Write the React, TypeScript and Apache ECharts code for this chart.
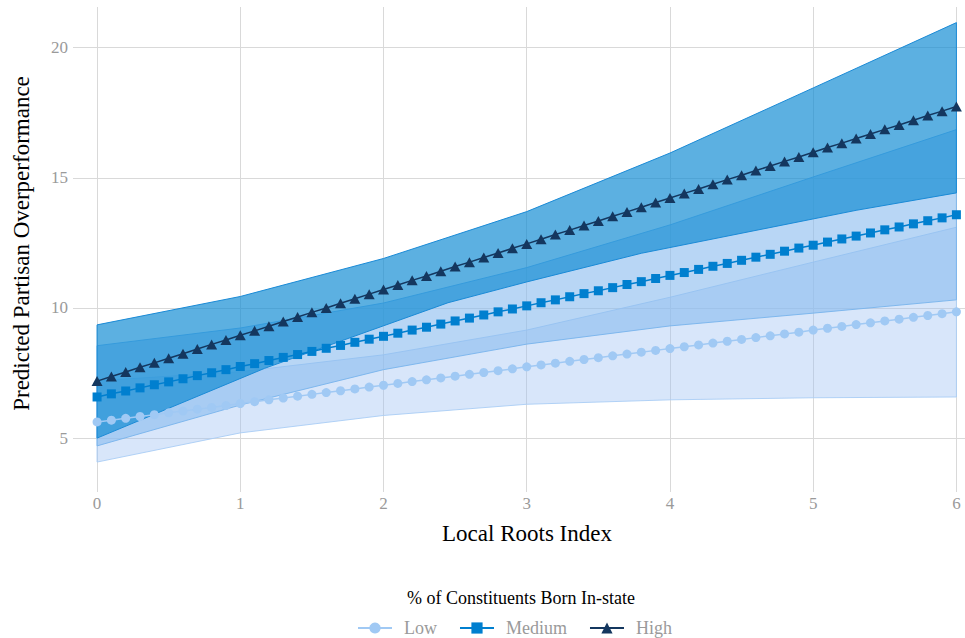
import React, { useEffect, useRef } from "react";
import * as echarts from "echarts";

// Local Roots Index sampled every 0.1
const xValues = [
  0, 0.1, 0.2, 0.3, 0.4, 0.5, 0.6, 0.7, 0.8, 0.9,
  1, 1.1, 1.2, 1.3, 1.4, 1.5, 1.6, 1.7, 1.8, 1.9,
  2, 2.1, 2.2, 2.3, 2.4, 2.5, 2.6, 2.7, 2.8, 2.9,
  3, 3.1, 3.2, 3.3, 3.4, 3.5, 3.6, 3.7, 3.8, 3.9,
  4, 4.1, 4.2, 4.3, 4.4, 4.5, 4.6, 4.7, 4.8, 4.9,
  5, 5.1, 5.2, 5.3, 5.4, 5.5, 5.6, 5.7, 5.8, 5.9,
  6,
];

const lowValues = [
  5.62, 5.69, 5.76, 5.83, 5.9, 5.97, 6.04, 6.11, 6.18, 6.25,
  6.33, 6.4, 6.47, 6.54, 6.61, 6.68, 6.75, 6.82, 6.89, 6.96,
  7.03, 7.1, 7.17, 7.24, 7.31, 7.38, 7.45, 7.52, 7.59, 7.66,
  7.74, 7.81, 7.88, 7.95, 8.02, 8.09, 8.16, 8.23, 8.3, 8.37,
  8.44, 8.51, 8.58, 8.65, 8.72, 8.79, 8.86, 8.93, 9.0, 9.07,
  9.15, 9.22, 9.29, 9.36, 9.43, 9.5, 9.57, 9.64, 9.71, 9.78,
  9.85,
];

const mediumValues = [
  6.58, 6.7, 6.81, 6.93, 7.05, 7.16, 7.28, 7.4, 7.51, 7.63,
  7.75, 7.86, 7.98, 8.1, 8.21, 8.33, 8.45, 8.56, 8.68, 8.8,
  8.91, 9.03, 9.15, 9.26, 9.38, 9.5, 9.61, 9.73, 9.85, 9.96,
  10.08, 10.2, 10.31, 10.43, 10.55, 10.66, 10.78, 10.9, 11.01, 11.13,
  11.25, 11.36, 11.48, 11.6, 11.71, 11.83, 11.95, 12.06, 12.18, 12.3,
  12.41, 12.53, 12.65, 12.76, 12.88, 13.0, 13.11, 13.23, 13.35, 13.46,
  13.58,
];

const highValues = [
  7.19, 7.37, 7.54, 7.72, 7.89, 8.07, 8.24, 8.42, 8.6, 8.77,
  8.95, 9.12, 9.3, 9.48, 9.65, 9.83, 10.0, 10.18, 10.35, 10.53,
  10.71, 10.88, 11.06, 11.23, 11.41, 11.59, 11.76, 11.94, 12.11, 12.29,
  12.46, 12.64, 12.82, 12.99, 13.17, 13.34, 13.52, 13.69, 13.87, 14.05,
  14.22, 14.4, 14.57, 14.75, 14.93, 15.1, 15.28, 15.45, 15.63, 15.8,
  15.98, 16.16, 16.33, 16.51, 16.68, 16.86, 17.03, 17.21, 17.39, 17.56,
  17.74,
];

// Confidence ribbons
const bandX = [0, 1, 2, 3, 4, 5, 6];
const lowUpper = [7.2, 7.55, 8.2, 9.15, 10.41, 11.76, 13.1];
const lowLower = [4.08, 5.2, 5.87, 6.3, 6.47, 6.55, 6.58];
const mediumUpper = [8.55, 9.23, 10.19, 11.55, 13.19, 15.03, 16.85];
const mediumLower = [4.7, 6.27, 7.63, 8.61, 9.31, 9.8, 10.31];
const highUpper = [9.35, 10.44, 11.9, 13.7, 15.95, 18.45, 20.96];
const highLowerX = [0, 1.17, 2.45, 3, 3.8, 5.3, 6];
const highLower = [5.0, 7.68, 10.2, 11.0, 12.1, 13.75, 14.42];

const xTicks = [0, 1, 2, 3, 4, 5, 6];
const yTicks = [5, 10, 15, 20];
const groupNames = ["Low", "Medium", "High"];

const SERIF = "Liberation Serif";

function pairs(xs: number[], ys: number[]) {
  return xs.map((x, i) => [x, ys[i]]);
}

function ribbon(
  upperX: number[],
  upper: number[],
  lowerX: number[],
  lower: number[],
  fill: string,
  stroke: string,
  z: number
) {
  const outline = pairs(upperX, upper).concat(pairs(lowerX, lower).reverse());
  return {
    type: "custom",
    silent: true,
    clip: true,
    z,
    data: outline,
    renderItem: (params: any, api: any) => {
      if (params.dataIndex !== 0) return null;
      const points = outline.map((p) => api.coord(p));
      return {
        type: "polygon",
        shape: { points },
        style: { fill, stroke, lineWidth: 1 },
      };
    },
  };
}

export default function App() {
  const ref = useRef<HTMLDivElement>(null);

  useEffect(() => {
    if (!ref.current) return;
    const chart = echarts.init(ref.current, undefined, { renderer: "svg" });

    const lineColors = ["#a0c9f4", "#007fcf", "#14375f"];
    const symbols = ["circle", "rect", "triangle"];
    const symbolSizes: any[] = [9, 9, [11, 10]];
    const lineData = [lowValues, mediumValues, highValues];

    chart.setOption({
      animation: false,
      backgroundColor: "#ffffff",
      textStyle: { fontFamily: SERIF },
      grid: { left: 73, top: 7, width: 892, height: 485, containLabel: false },
      xAxis: {
        type: "value",
        min: -0.168,
        max: 6.06,
        axisLine: { show: false },
        axisTick: { show: false, customValues: xTicks },
        axisLabel: {
          customValues: xTicks,
          color: "#9a9a9a",
          fontSize: 17,
          fontFamily: SERIF,
          margin: 3,
        },
        splitLine: { show: true, lineStyle: { color: "#d9d9d9", width: 1 } },
      },
      yAxis: {
        type: "value",
        min: 2.93,
        max: 21.56,
        axisLine: { show: false },
        axisTick: { show: false, customValues: yTicks },
        axisLabel: {
          customValues: yTicks,
          color: "#9a9a9a",
          fontSize: 17,
          fontFamily: SERIF,
          margin: 5,
        },
        splitLine: { show: true, lineStyle: { color: "#d9d9d9", width: 1 } },
      },
      legend: {
        data: groupNames,
        left: 357,
        top: 619,
        padding: 0,
        itemWidth: 34,
        itemHeight: 14,
        itemGap: 22,
        textStyle: { color: "#9a9a9a", fontSize: 18, fontFamily: SERIF, padding: [0, 0, 0, 7] },
      },
      graphic: [
        {
          type: "text",
          x: 21,
          y: 243.5,
          rotation: Math.PI / 2,
          style: {
            text: "Predicted Partisan Overperformance",
            textAlign: "center",
            textVerticalAlign: "middle",
            fontSize: 23,
            fontFamily: SERIF,
            fill: "#000000",
          },
        },
        {
          type: "text",
          x: 527,
          y: 533,
          style: {
            text: "Local Roots Index",
            textAlign: "center",
            textVerticalAlign: "middle",
            fontSize: 23,
            fontFamily: SERIF,
            fill: "#000000",
          },
        },
        {
          type: "text",
          x: 521,
          y: 598,
          style: {
            text: "% of Constituents Born In-state",
            textAlign: "center",
            textVerticalAlign: "middle",
            fontSize: 18,
            fontFamily: SERIF,
            fill: "#000000",
          },
        },
      ],
      series: [
        ribbon(bandX, lowUpper, bandX, lowLower, "rgba(157,192,242,0.4)", "rgba(170,205,245,0.9)", 1),
        ribbon(bandX, mediumUpper, bandX, mediumLower, "rgba(137,187,238,0.6)", "rgba(120,180,236,0.9)", 1),
        ribbon(bandX, highUpper, highLowerX, highLower, "rgba(19,140,211,0.69)", "#1a8ad6", 1),
        ...groupNames.map((name, k) => ({
          type: "line",
          name,
          z: 3,
          data: pairs(xValues, lineData[k]),
          symbol: symbols[k],
          symbolSize: symbolSizes[k],
          showSymbol: true,
          showAllSymbol: true,
          lineStyle: { color: lineColors[k], width: 1.5 },
          itemStyle: { color: lineColors[k] },
          emphasis: { disabled: true },
        })),
      ],
    });

    return () => chart.dispose();
  }, []);

  return (
    <div
      ref={ref}
      style={{ position: "fixed", left: 0, top: 0, width: 965, height: 638 }}
    />
  );
}
